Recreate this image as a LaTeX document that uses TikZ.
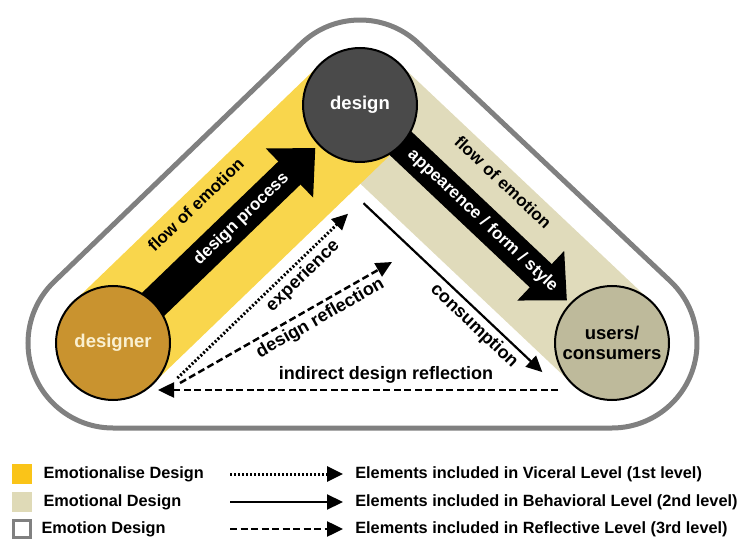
\documentclass[tikz,border=0pt]{standalone}
\usepackage{fontspec}
\setmainfont{Liberation Sans}
\usepackage{tikz}
\usetikzlibrary{arrows,arrows.meta,calc,positioning,backgrounds}
\definecolor{bandyellow}{RGB}{249,214,76}
\definecolor{bandbeige}{RGB}{224,219,187}
\definecolor{designerfill}{RGB}{201,147,47}
\definecolor{designertext}{RGB}{250,240,208}
\definecolor{designfill}{RGB}{74,74,74}
\definecolor{userfill}{RGB}{190,186,155}
\definecolor{outlinegray}{RGB}{128,128,128}
\definecolor{legendyellow}{RGB}{250,196,24}
\definecolor{legendbeige}{RGB}{223,218,183}
\tikzset{
    circlenode/.style={circle,draw=black,line width=2pt,minimum size=114pt,inner sep=0pt,align=center,font=\fontsize{18.5}{19.5}\selectfont\bfseries},
    designernode/.style={circlenode,fill=designerfill,text=designertext},
    designnode/.style={circlenode,fill=designfill,text=white},
    usernode/.style={circlenode,fill=userfill,text=black},
    outline/.style={draw=outlinegray,line width=5pt},
    bigarrow/.style={line width=32pt,-{Triangle[length=36pt,width=66pt]},shorten >=4pt,shorten <=-4pt},
    arrowlabel/.style={sloped,inner sep=1pt,font=\fontsize{17}{18}\selectfont\bfseries},
    linelabel/.style={inner sep=1pt,font=\fontsize{18}{19}\selectfont\bfseries},
    viceral/.style={->,line width=3pt,dash pattern=on 2pt off 2pt},
    behavioral/.style={->,line width=2.2pt},
    reflective/.style={->,line width=2.5pt,dash pattern=on 7pt off 3.5pt},
    legendbox/.style={minimum width=20pt,minimum height=20pt,inner sep=0pt},
    legendtext/.style={anchor=west,inner sep=0pt,font=\fontsize{16.3}{17}\selectfont\bfseries}
}
\begin{document}
\begin{tikzpicture}[x=1pt,y=1pt,>={Triangle[length=16pt,width=15pt]},semithick]
\useasboundingbox (0,0) rectangle (742,539);

\node[designernode] (designer) at (113,196) {designer};
\node[designnode] (design) at (360,434) {design};
\node[usernode] (users) at (612,196) {users/\\consumers};

\begin{scope}[on background layer]
\draw[outline] ($(designer)+(133.94:85pt)$) -- ($(design)+(133.94:85pt)$)
    arc[start angle=133.94,end angle=46.64,radius=85pt]
    -- ($(users)+(46.64:85pt)$)
    arc[start angle=46.64,end angle=-90,radius=85pt]
    -- ($(designer)+(-90:85pt)$)
    arc[start angle=270,end angle=133.94,radius=85pt] -- cycle;
\fill[bandbeige] ($(design)!57pt!90:(users)$) -- ($(users)!57pt!-90:(design)$)
    -- ($(users)!57pt!90:(design)$) -- ($(design)!57pt!-90:(users)$) -- cycle;
\fill[bandyellow] ($(designer)!57pt!90:(design)$) -- ($(design)!57pt!-90:(designer)$)
    -- ($(design)!57pt!90:(designer)$) -- ($(designer)!57pt!-90:(design)$) -- cycle;
\path
(designer) edge[bigarrow] node[arrowlabel,pos=0.53,text=white] {design process}
                          node[arrowlabel,pos=0.43,above=19pt] {flow of emotion} (design)
(design)   edge[bigarrow] node[arrowlabel,pos=0.48,text=white] {appearence / form / style}
                          node[arrowlabel,pos=0.43,above=19pt] {flow of emotion} (users);
\end{scope}

\coordinate (exp-s) at ($(designer)!22pt!(design)!70pt!-90:(design)$);
\coordinate (exp-e) at ($(designer)!259pt!(design)!70pt!-90:(design)$);
\coordinate (con-s) at ($(design)!70pt!(users)!69pt!-90:(users)$);
\coordinate (con-e) at ($(design)!316pt!(users)!69pt!-90:(users)$);
\coordinate (ref-s) at ($(designer)+(67,-40)$);
\coordinate (ref-e) at ($(designer)+(279,81)$);
\coordinate (ind-s) at ($(users)+(-54,-47)$);
\coordinate (ind-e) at ($(designer)+(45,-47)$);

\path
(exp-s) edge[viceral]    node[linelabel,sloped,pos=0.68,below=3pt] {experience} (exp-e)
(ref-s) edge[reflective] node[linelabel,sloped,pos=0.63,below=3pt] {design reflection} (ref-e)
(con-s) edge[behavioral] node[linelabel,sloped,pos=0.67,below=3pt] {consumption} (con-e)
(ind-s) edge[reflective] node[linelabel,pos=0.43,above=4pt] {indirect design reflection} (ind-e);

\node[legendbox,fill=legendyellow] (ly) at (22,65) {};
\node[legendbox,fill=legendbeige] (lb) at (22,37) {};
\node[legendbox,draw=outlinegray,line width=3.5pt,minimum width=17pt,minimum height=17pt] (lw) at (22,10) {};
\node[legendtext,right=11pt of ly] (ly-t) {Emotionalise Design};
\node[legendtext,right=11pt of lb] (lb-t) {Emotional Design};
\node[legendtext,right=9pt of lw] (lw-t) {Emotion Design};
\node[legendtext] (lv-t) at (355,65) {Elements included in Viceral Level (1st level)};
\node[legendtext] (lh-t) at (355,37) {Elements included in Behavioral Level (2nd level)};
\node[legendtext] (lr-t) at (355,10) {Elements included in Reflective Level (3rd level)};
\coordinate (lv-s) at (230,65);
\coordinate (lh-s) at (230,37);
\coordinate (lr-s) at (230,10);

\path
(lv-s) edge[viceral,shorten >=12pt]    (lv-t)
(lh-s) edge[behavioral,shorten >=12pt] (lh-t)
(lr-s) edge[reflective,shorten >=12pt] (lr-t);

\end{tikzpicture}
\end{document}
